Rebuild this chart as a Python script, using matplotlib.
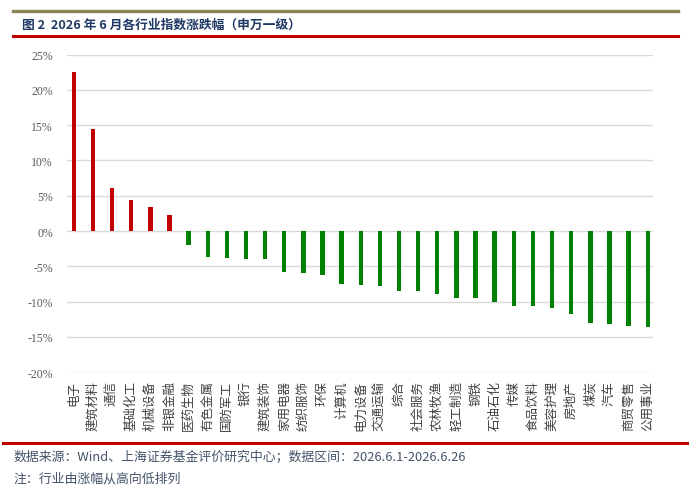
import numpy as np
import matplotlib
matplotlib.use("Agg")
import matplotlib.pyplot as plt
import matplotlib.transforms as mtransforms
from matplotlib.lines import Line2D
from matplotlib.ticker import FuncFormatter

plt.rcParams['font.family'] = ['Noto Sans CJK SC', 'DejaVu Sans']

industries = ["电子", "建筑材料", "通信", "基础化工", "机械设备", "非银金融",
              "医药生物", "有色金属", "国防军工", "银行", "建筑装饰", "家用电器",
              "纺织服饰", "环保", "计算机", "电力设备", "交通运输", "综合",
              "社会服务", "农林牧渔", "轻工制造", "钢铁", "石油石化", "传媒",
              "食品饮料", "美容护理", "房地产", "煤炭", "汽车", "商贸零售", "公用事业"]
changes = [22.46, 14.46, 6.13, 4.43, 3.40, 2.26,
           -1.98, -3.67, -3.81, -3.91, -3.91, -5.79,
           -5.88, -6.26, -7.45, -7.67, -7.72, -8.43,
           -8.52, -8.85, -9.46, -9.51, -9.98, -10.59,
           -10.55, -10.92, -11.77, -12.99, -13.23, -13.51, -13.56]
yticks = [-20, -15, -10, -5, 0, 5, 10, 15, 20, 25]

title = "图 2  2026 年 6 月各行业指数涨跌幅（申万一级）"
source = "数据来源：Wind、上海证券基金评价研究中心；数据区间：2026.6.1-2026.6.26"
note = "注：行业由涨幅从高向低排列"

W, H = 700, 489
fig = plt.figure(figsize=(7, 4.89), dpi=100)
ax = fig.add_axes([66.7 / W, 1 - 373.3 / H, (653.3 - 66.7) / W, (373.3 - 55.5) / H])

x = np.arange(len(industries))
colors = ["#C00000" if v >= 0 else "#008000" for v in changes]
ax.bar(x, changes, width=0.23, color=colors, zorder=3)

ax.set_ylim(-20, 25)
ax.set_xlim(-0.37, len(industries) - 1 + 0.29)
ax.set_yticks(yticks)
ax.yaxis.set_major_formatter(FuncFormatter(lambda v, p: "%d%%" % v))
ax.grid(axis='y', color='#d9d9d9', lw=1, zorder=0)
for s in ax.spines.values():
    s.set_visible(False)
ax.tick_params(axis='y', length=0, pad=10, labelsize=8.5, labelcolor='#595959')
for lab in ax.get_yticklabels():
    lab.set_family(['Liberation Serif'])
ax.set_xticks([])

# vertical category labels, x in data units, y in figure units
trans = mtransforms.blended_transform_factory(ax.transData, fig.transFigure)
for i, name in enumerate(industries):
    ax.text(i, 1 - 381.5 / H, name, transform=trans, rotation=90,
            ha='center', va='top', fontsize=9, color='#404040')

# header / footer rules
fig.add_artist(Line2D([13 / W, 678 / W], [1 - 12 / H] * 2, color='#8C8656', lw=2.4))
fig.add_artist(Line2D([13 / W, 678 / W], [1 - 36.5 / H] * 2, color='#C00000', lw=2.2))
fig.add_artist(Line2D([3 / W, 687 / W], [1 - 444 / H] * 2, color='#C00000', lw=2.2))

fig.text(22 / W, 1 - 25 / H, title, ha='left', va='center', fontsize=9.2,
         fontweight='bold', color='#1F3864')
fig.text(13 / W, 1 - 458 / H, source, ha='left', va='center', fontsize=9.3,
         color='#44546A')
fig.text(13 / W, 1 - 479 / H, note, ha='left', va='center', fontsize=9.3,
         color='#44546A')

fig.savefig("out.png", dpi=100)
